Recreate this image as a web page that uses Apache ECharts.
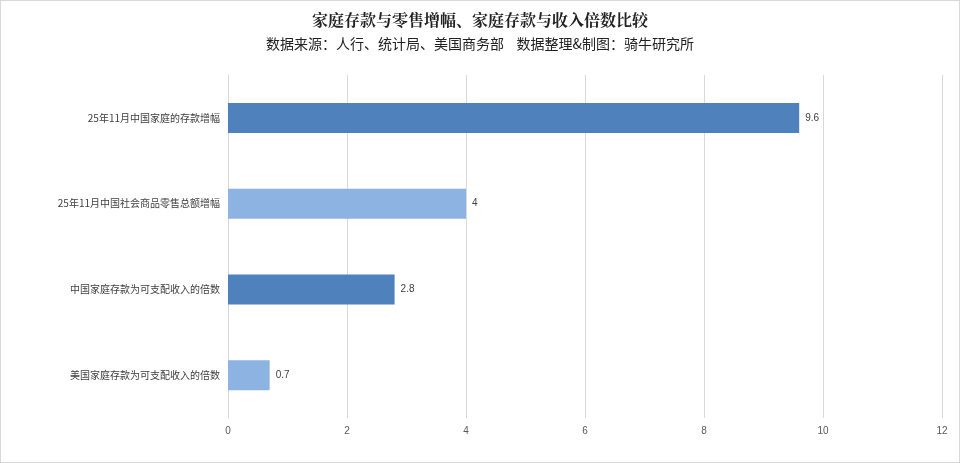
<!DOCTYPE html>
<html>
<head>
<meta charset="utf-8">
<script src="https://cdn.jsdelivr.net/npm/echarts@6/dist/echarts.min.js"></script>
<style>
  html, body { margin: 0; padding: 0; background: #fff; }
  #chart { width: 958px; height: 461px; border: 1px solid #d9d9d9; }
</style>
</head>
<body>
<div id="chart"></div>
<script>
// top to bottom as drawn
const categories = [
  '25年11月中国家庭的存款增幅',
  '25年11月中国社会商品零售总额增幅',
  '中国家庭存款为可支配收入的倍数',
  '美国家庭存款为可支配收入的倍数'
];
const values = [9.6, 4, 2.8, 0.7];
const barColors = ['#4f81bd', '#8db3e2', '#4f81bd', '#8db3e2'];

const chart = echarts.init(document.getElementById('chart'));
chart.setOption({
  animation: false,
  title: {
    text: '家庭存款与零售增幅、家庭存款与收入倍数比较',
    subtext: '数据来源：人行、统计局、美国商务部    数据整理&制图：骑牛研究所',
    left: 'center',
    top: 6,
    itemGap: 9,
    textStyle: { fontFamily: 'Noto Serif CJK SC, Noto Sans CJK SC', fontWeight: 'bold', fontSize: 16, color: '#222' },
    subtextStyle: { fontFamily: 'Noto Sans CJK SC', fontSize: 14, color: '#222' }
  },
  grid: { left: 227, right: 17, top: 74, bottom: 44 },
  xAxis: {
    type: 'value', min: 0, max: 12, interval: 2,
    axisLine: { show: false }, axisTick: { show: false },
    axisLabel: { color: '#595959', fontSize: 10, margin: 8 },
    splitLine: { lineStyle: { color: '#d9d9d9' } }
  },
  yAxis: {
    type: 'category', inverse: true, data: categories,
    axisLine: { lineStyle: { color: '#d9d9d9' } }, axisTick: { show: false },
    axisLabel: { color: '#404040', fontSize: 10, margin: 8, fontFamily: 'Noto Sans CJK SC' }
  },
  series: [{
    type: 'bar',
    barWidth: 30,
    data: values.map((v, i) => ({ value: v, itemStyle: { color: barColors[i] } })),
    label: { show: true, position: 'right', color: '#404040', fontSize: 10, distance: 6 }
  }]
});
</script>
</body>
</html>
